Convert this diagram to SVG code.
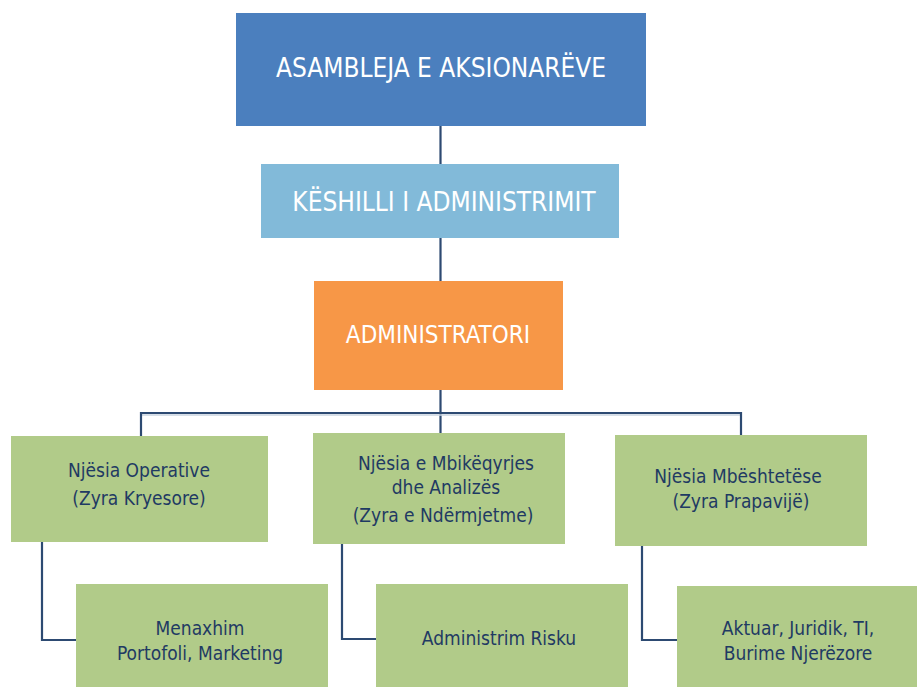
<svg xmlns="http://www.w3.org/2000/svg" width="917" height="687" viewBox="0 0 917 687">
<style>
.w{fill:#fff;font-family:"DejaVu Sans",sans-serif;font-stretch:condensed;text-anchor:middle}
.t{fill:#1f3a63;font-family:"DejaVu Sans",sans-serif;font-stretch:condensed;font-size:19px;text-anchor:middle}
.g{fill:#b1cb89}
.c{fill:none;stroke:#2d4a72;stroke-width:2.2}
</style>
<rect width="917" height="687" fill="#fff"/>
<g id="connectors">
<line class="c" x1="440.5" y1="126" x2="440.5" y2="164"/>
<line class="c" x1="440.5" y1="238" x2="440.5" y2="281"/>
<line class="c" x1="440.5" y1="390" x2="440.5" y2="433"/>
<polyline points="141,436 141,415 741,415 741,435" fill="none" stroke="#c9d3df" stroke-width="1.5"/>
<polyline class="c" points="141,436 141,413 741,413 741,435"/>
<polyline class="c" points="42,542 42,640 76,640"/>
<polyline class="c" points="342,544 342,639 376,639"/>
<polyline class="c" points="642,546 642,640 677,640"/>
</g>
<g id="n1"><rect x="236" y="13" width="410" height="113" fill="#4b7fbe"/><text class="w" x="441" y="77" font-size="26">ASAMBLEJA E AKSIONARËVE</text></g>
<g id="n2"><rect x="261" y="164" width="358" height="74" fill="#82bad9"/><text class="w" x="444" y="211" font-size="26">KËSHILLI I ADMINISTRIMIT</text></g>
<g id="n3"><rect x="314" y="281" width="249" height="109" fill="#f79747"/><text class="w" x="438" y="343" font-size="24">ADMINISTRATORI</text></g>
<g id="n4"><rect class="g" x="11" y="436" width="257" height="106"/><text class="t" x="139" y="477">Njësia Operative</text><text class="t" x="139" y="505">(Zyra Kryesore)</text></g>
<g id="n5"><rect class="g" x="313" y="433" width="252" height="111"/><text class="t" x="446" y="470">Njësia e Mbikëqyrjes</text><text class="t" x="446" y="494">dhe Analizës</text><text class="t" x="443" y="522">(Zyra e Ndërmjetme)</text></g>
<g id="n6"><rect class="g" x="615" y="435" width="252" height="111"/><text class="t" x="738" y="483">Njësia Mbështetëse</text><text class="t" x="741" y="508">(Zyra Prapavijë)</text></g>
<g id="n7"><rect class="g" x="76" y="584" width="252" height="103"/><text class="t" x="200" y="635">Menaxhim</text><text class="t" x="200" y="660">Portofoli, Marketing</text></g>
<g id="n8"><rect class="g" x="376" y="584" width="252" height="103"/><text class="t" x="499" y="645">Administrim Risku</text></g>
<g id="n9"><rect class="g" x="677" y="586" width="240" height="101"/><text class="t" x="798" y="635">Aktuar, Juridik, TI,</text><text class="t" x="798" y="660">Burime Njerëzore</text></g>
</svg>
